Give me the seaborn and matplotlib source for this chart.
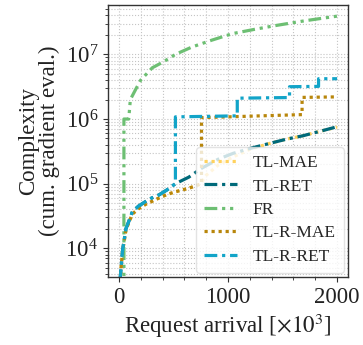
import matplotlib
matplotlib.use("Agg")
import matplotlib.pyplot as plt
import seaborn as sns
from matplotlib.ticker import MultipleLocator, LogLocator, NullFormatter

# request arrival (x10^3) and cumulative gradient evaluations per method
tl_mae_x = [9, 20, 34, 64, 90, 124, 180, 245, 300, 367, 440, 518, 640, 745, 800, 912, 1048, 1200, 1382, 1540, 1685, 1850, 2000]
tl_mae_y = [3e3, 5e3, 9e3, 1.9e4, 2.5e4, 3.4e4, 4.1e4, 4.8e4, 5.3e4, 6e4, 6.8e4, 7.5e4, 8.5e4, 9.8e4, 1.35e5, 1.95e5, 2.6e5, 3.4e5, 4.2e5, 4.9e5, 5.5e5, 6.5e5, 7.5e5]

tl_ret_x = [9, 20, 34, 64, 90, 124, 180, 245, 300, 367, 440, 518, 640, 760, 912, 1048, 1200, 1382, 1540, 1685, 1850, 2000]
tl_ret_y = [3e3, 5e3, 9.4e3, 2e4, 2.6e4, 3.7e4, 4.5e4, 5.3e4, 6e4, 6.7e4, 8e4, 1e5, 1.26e5, 1.74e5, 2.4e5, 2.95e5, 3.5e5, 4.2e5, 4.9e5, 5.5e5, 6.5e5, 7.6e5]

fr_x = [46, 46, 90, 105, 155, 200, 306, 410, 518, 670, 852, 1045, 1250, 1442, 1700, 2000]
fr_y = [2e3, 1e6, 1e6, 2e6, 2.9e6, 4e6, 6.2e6, 7.7e6, 1e7, 1.3e7, 1.66e7, 2.1e7, 2.45e7, 2.8e7, 3.3e7, 3.9e7]

tl_r_mae_x = [9, 20, 34, 64, 90, 124, 180, 245, 300, 367, 440, 518, 640, 757, 757, 1000, 1300, 1679, 1679, 2000]
tl_r_mae_y = [3e3, 5e3, 9e3, 1.9e4, 2.5e4, 3.4e4, 4.1e4, 4.8e4, 5.3e4, 6e4, 6.8e4, 7.5e4, 8.5e4, 1e5, 1.05e6, 1.08e6, 1.12e6, 1.17e6, 2.16e6, 2.2e6]

tl_r_ret_x = [9, 20, 34, 64, 90, 124, 180, 245, 300, 367, 440, 518, 518, 1085, 1085, 1564, 1564, 1830, 1830, 2000]
tl_r_ret_y = [3e3, 5e3, 9.4e3, 2e4, 2.6e4, 3.7e4, 4.5e4, 5.3e4, 6e4, 6.7e4, 8e4, 1e5, 1.08e6, 1.12e6, 2.1e6, 2.15e6, 3.16e6, 3.2e6, 4.2e6, 4.2e6]

sns.set_style("ticks")
plt.rcParams["font.family"] = ["Liberation Serif", "DejaVu Serif"]
plt.rcParams["mathtext.fontset"] = "stix"

fig, ax = plt.subplots(figsize=(3.63, 3.45), dpi=100)
fig.subplots_adjust(left=0.2975, right=0.9587, bottom=0.197, top=0.9855)

series = [
    ("TL-MAE", tl_mae_x, tl_mae_y, "#FFD25E", (0, (1, 1.2))),
    ("TL-RET", tl_ret_x, tl_ret_y, "#006A7A", (0, (4, 1.5, 1, 1.5))),
    ("FR", fr_x, fr_y, "#6DBF73", (0, (4, 1.5, 1, 1.5, 1, 1.5))),
    ("TL-R-MAE", tl_r_mae_x, tl_r_mae_y, "#B8860B", (0, (1, 1.2))),
    ("TL-R-RET", tl_r_ret_x, tl_r_ret_y, "#12A4C8", (0, (4, 1.5, 1, 1.5))),
]
for name, xs, ys, col, ls in series:
    sns.lineplot(x=xs, y=ys, ax=ax, sort=False, estimator=None, color=col,
                 linestyle=ls, linewidth=2.3, label=name)

ax.set_yscale("log")
ax.set_xlim(-100, 2100)
ax.set_ylim(3.6e3, 5.8e7)
ax.xaxis.set_major_locator(MultipleLocator(1000))
ax.xaxis.set_minor_locator(MultipleLocator(200))
ax.yaxis.set_major_locator(LogLocator(base=10, numticks=10))
ax.yaxis.set_minor_locator(LogLocator(base=10, subs=range(2, 10), numticks=20))
ax.yaxis.set_minor_formatter(NullFormatter())
ax.grid(True, which="both", linestyle=":", color="#c4c4c4", linewidth=0.8)
ax.set_axisbelow(True)
for sp in ax.spines.values():
    sp.set_color("#333333")
    sp.set_linewidth(1.0)
ax.tick_params(labelsize=16.5, colors="#333333", labelcolor="#222222")
ax.tick_params(which="minor", length=2.5)

ax.set_xlabel(r"Request arrival [$\times10^3$]", fontsize=16.5, color="#222222", labelpad=3)
ax.set_ylabel("Complexity\n(cum. gradient eval.)", fontsize=16.5, color="#222222",
              linespacing=1.0, labelpad=4)

ax.legend(loc="lower right", fontsize=12.5, handlelength=1.9, borderaxespad=0.25,
          labelspacing=0.42, handletextpad=0.9, borderpad=0.45, framealpha=0.8,
          edgecolor="#dddddd")

fig.savefig("out.png", dpi=100)
